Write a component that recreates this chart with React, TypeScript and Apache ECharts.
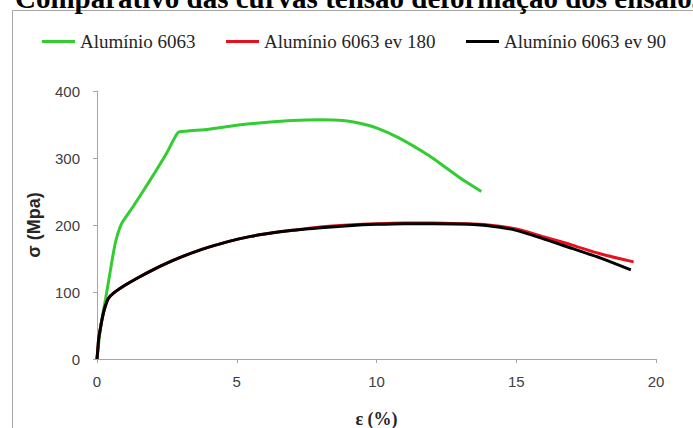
import React, { useEffect, useRef } from "react";
import * as echarts from "echarts";

const titleText = "Comparativo das curvas tensão deformação dos ensaios";
const seriesNames = ["Alumínio 6063", "Alumínio 6063 ev 180", "Alumínio 6063 ev 90"];
const seriesColors = ["#33cc33", "#e8101c", "#000000"];

const xTicks = { min: 0, max: 20, interval: 5 };
const yTicks = { min: 0, max: 400, interval: 100 };

// strain (%) , stress (MPa)
const green: [number, number][] = [
  [0, 0], [0.05, 20], [0.12, 45], [0.22, 70], [0.3, 88], [0.45, 125], [0.65, 172],
  [0.88, 202], [1.3, 228], [1.9, 267], [2.5, 308], [2.9, 338], [3.2, 340], [4, 343],
  [5, 349], [6, 353], [7, 356], [8, 357], [8.8, 356], [9.4, 352], [10, 345],
  [10.8, 330], [11.9, 303], [12.5, 285], [13.1, 267], [13.75, 250],
];

const red: [number, number][] = [
  [0, 0], [0.03, 15], [0.06, 30], [0.11, 43], [0.2, 63], [0.29, 78], [0.4, 90],
  [0.58, 98], [1, 110], [1.5, 122], [2, 133], [2.5, 143], [3, 152], [3.5, 160],
  [4, 167], [4.5, 173], [5, 178.5], [5.5, 183], [6, 186.5], [7, 192], [8, 197],
  [9, 200], [10, 202], [11, 203], [12, 203], [13, 202], [14, 200], [15, 194],
  [16, 182], [17, 170], [18, 157], [19.2, 145],
];

const black: [number, number][] = [
  [0, 0], [0.03, 15], [0.06, 30], [0.11, 43], [0.2, 63], [0.29, 78], [0.4, 90],
  [0.58, 98], [1, 110], [1.5, 122], [2, 133], [2.5, 143], [3, 152], [3.5, 160],
  [4, 167], [4.5, 173], [5, 178.5], [5.5, 183], [6, 186.5], [7, 192], [8, 196],
  [9, 199], [10, 201], [11, 202], [12, 202], [13, 201.5], [14, 199], [15, 192],
  [16, 179], [17, 165], [18, 151], [19.1, 133],
];

export default function App() {
  const ref = useRef<HTMLDivElement>(null);
  useEffect(() => {
    if (!ref.current) return;
    const chart = echarts.init(ref.current, undefined, { renderer: "svg" });
    const legendLefts = [42, 226, 466];
    chart.setOption({
      animation: false,
      backgroundColor: "#ffffff",
      graphic: [
        {
          type: "rect",
          shape: { x: 12.5, y: 10.5, width: 900, height: 600 },
          style: { fill: "none", stroke: "#a6a6a6", lineWidth: 1 },
          z: -1,
        },
        {
          type: "text",
          x: 15,
          y: -2,
          style: {
            text: titleText,
            font: 'bold 29px "Liberation Serif"',
            fill: "#000000",
            verticalAlign: "middle",
            align: "left",
          },
        },
      ],
      legend: seriesNames.map((n, i) => ({
        data: [n],
        left: legendLefts[i],
        top: 32,
        padding: 0,
        icon: "rect",
        itemWidth: 33,
        itemHeight: 3,
        textStyle: { fontFamily: "Liberation Serif", fontSize: 19, color: "#262626" },
      })),
      grid: { left: 97, right: 37, top: 91, bottom: 69, containLabel: false, outerBoundsMode: "none" },
      xAxis: {
        type: "value",
        min: xTicks.min,
        max: xTicks.max,
        interval: xTicks.interval,
        name: "ε (%)",
        nameLocation: "middle",
        nameGap: 51,
        nameTextStyle: { fontFamily: "Liberation Serif", fontWeight: "bold", fontSize: 18, color: "#262626" },
        axisLine: { show: true, lineStyle: { color: "#a6a6a6", width: 1 } },
        axisTick: { show: true, length: 4, lineStyle: { color: "#a6a6a6" } },
        axisLabel: { margin: 15, fontFamily: "Liberation Sans", fontSize: 15, color: "#404040" },
        splitLine: { show: false },
      },
      yAxis: {
        type: "value",
        min: yTicks.min,
        max: yTicks.max,
        interval: yTicks.interval,
        name: "σ (Mpa)",
        nameLocation: "middle",
        nameGap: 54,
        nameTextStyle: { fontFamily: "Liberation Sans", fontWeight: "bold", fontSize: 18, color: "#262626" },
        axisLine: { show: true, lineStyle: { color: "#a6a6a6", width: 1 } },
        axisTick: { show: true, length: 4, lineStyle: { color: "#a6a6a6" } },
        axisLabel: { margin: 17, fontFamily: "Liberation Sans", fontSize: 15, color: "#404040" },
        splitLine: { show: false },
      },
      series: [
        { name: seriesNames[0], data: green, color: seriesColors[0], smooth: 0.2 },
        { name: seriesNames[1], data: red, color: seriesColors[1], smooth: 0.3 },
        { name: seriesNames[2], data: black, color: seriesColors[2], smooth: 0.3 },
      ].map((s) => ({
        ...s,
        type: "line",
        showSymbol: false,
        symbol: "none",
        lineStyle: { width: 3, color: s.color },
        itemStyle: { color: s.color },
      })),
    });
    return () => chart.dispose();
  }, []);
  return (
    <div
      ref={ref}
      style={{ position: "fixed", left: 0, top: 0, width: 693, height: 428, background: "#fff" }}
    />
  );
}
